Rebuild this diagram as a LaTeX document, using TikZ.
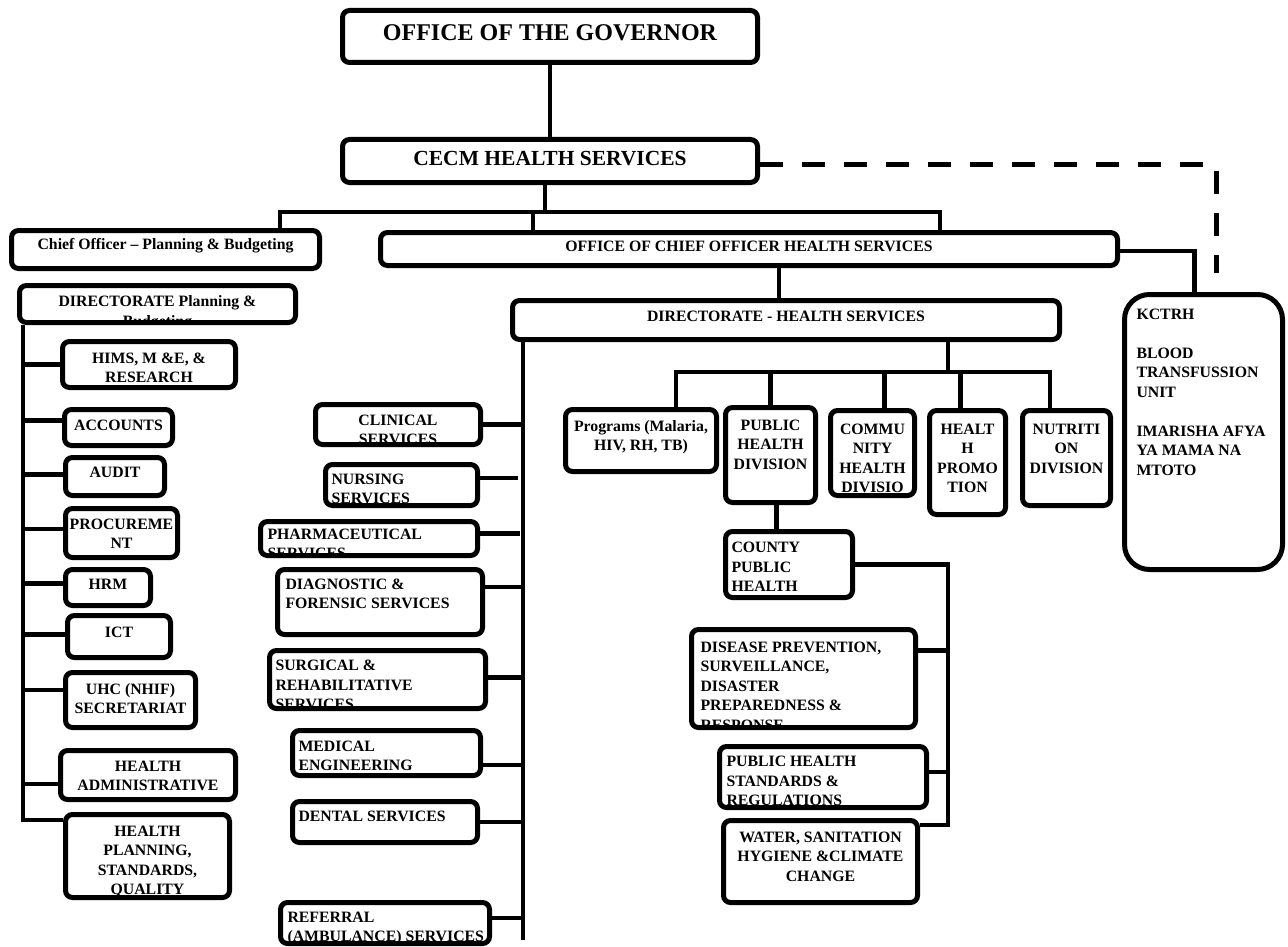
\documentclass[tikz,border=0pt]{standalone}
\usepackage{fontspec}
\setmainfont{Liberation Serif}
\tikzset{
  unit/.style 2 args={draw, line width=5pt, rounded corners=7pt, fill=white,
    anchor=north west, inner sep=0pt, minimum width=#1, minimum height=#2},
  lbl/.style={font=\fontsize{15.8}{19.5}\selectfont\bfseries, inner sep=0pt,
    draw=none, fill=none, minimum width=0pt, minimum height=0pt, align=center},
  mid/.style 2 args={path picture={\node[lbl, anchor=north]
    at ([yshift=-#1pt]path picture bounding box.north) {#2};}},
  lft/.style n args={3}{path picture={\node[lbl, anchor=north west, align=left]
    at ([xshift=#1pt, yshift=-#2pt]path picture bounding box.north west) {#3};}},
  link/.style={line width=4.5pt},
  dashlink/.style={line width=5pt, dash pattern=on 23pt off 19pt},
}

\begin{document}
\begin{tikzpicture}[x=1pt, y=-1pt]
  \useasboundingbox (0,0) rectangle (1288,947);

  \node[unit={415pt}{52pt}, mid={11.2}{\fontsize{24}{28}\selectfont OFFICE OF THE GOVERNOR}] (gov) at (340,8) {};
  \node[unit={415pt}{43pt}, mid={8.8}{\fontsize{21.5}{26}\selectfont CECM HEALTH SERVICES}] (cecm) at (340,137) {};
  \node[unit={308pt}{38pt}, mid={5.5}{Chief Officer -- Planning \& Budgeting}] (chief) at (9,228) {};
  \node[unit={737pt}{33pt}, mid={6}{OFFICE OF CHIEF OFFICER HEALTH SERVICES}] (office) at (378,230) {};
  \node[unit={547pt}{39pt}, mid={8}{DIRECTORATE - HEALTH SERVICES}] (dirhs) at (510,298) {};
  \node[unit={158pt}{275pt}, rounded corners=25pt, lft={9.5}{12}{KCTRH\\[19.5pt]BLOOD\\TRANSFUSSION\\UNIT\\[19.5pt]IMARISHA AFYA\\YA MAMA NA\\MTOTO}] (kctrh) at (1122,292) {};

  \node[unit={276pt}{37pt}, mid={8}{DIRECTORATE Planning \&\\Budgeting}] (dirplan) at (17,283) {};
  \node[unit={173pt}{46pt}, mid={8.5}{HIMS, M \&E, \&\\RESEARCH}] (hims) at (60,339) {};
  \node[unit={108pt}{36pt}, mid={8}{ACCOUNTS}] (acc) at (62,407) {};
  \node[unit={99pt}{38pt}, mid={7.5}{AUDIT}] (audit) at (63,455) {};
  \node[unit={112pt}{49pt}, mid={8}{PROCUREME\\NT}] (proc) at (63,506) {};
  \node[unit={85pt}{36pt}, mid={7}{HRM}] (hrm) at (63,567) {};
  \node[unit={103pt}{42pt}, mid={9.5}{ICT}] (ict) at (65,613) {};
  \node[unit={130pt}{55pt}, mid={8.5}{UHC (NHIF)\\SECRETARIAT}] (uhc) at (63,670) {};
  \node[unit={175pt}{49pt}, mid={8}{HEALTH\\ADMINISTRATIVE}] (hadm) at (58,748) {};
  \node[unit={164pt}{83pt}, mid={9}{HEALTH\\PLANNING,\\STANDARDS,\\QUALITY}] (hplan) at (63,812) {};

  \node[unit={165pt}{40pt}, mid={8}{CLINICAL\\SERVICES}] (clin) at (313,402) {};
  \node[unit={152pt}{41pt}, lft={3.5}{7}{NURSING\\SERVICES}] (nurs) at (323,462) {};
  \node[unit={217pt}{34pt}, lft={4.5}{5}{PHARMACEUTICAL\\SERVICES}] (pharm) at (258,519) {};
  \node[unit={205pt}{65pt}, lft={5.5}{6.5}{DIAGNOSTIC \&\\FORENSIC SERVICES}] (diag) at (275,567) {};
  \node[unit={216pt}{58pt}, lft={3.5}{7}{SURGICAL \&\\REHABILITATIVE\\SERVICES}] (surg) at (267,648) {};
  \node[unit={188pt}{45pt}, lft={3.5}{8}{MEDICAL\\ENGINEERING}] (med) at (290,728) {};
  \node[unit={185pt}{41pt}, lft={3.5}{7}{DENTAL SERVICES}] (dent) at (290,799) {};
  \node[unit={209pt}{41pt}, lft={4.5}{7}{REFERRAL\\(AMBULANCE) SERVICES}] (ref) at (278,900) {};

  \node[unit={151pt}{62pt}, mid={8.5}{Programs (Malaria,\\HIV, RH, TB)}] (prog) at (563,407) {};
  \node[unit={90pt}{95pt}, mid={10}{PUBLIC\\HEALTH\\DIVISION}] (phd) at (723,405) {};
  \node[unit={84pt}{85pt}, mid={11}{COMMU\\NITY\\HEALTH\\DIVISIO}] (comm) at (828,408) {};
  \node[unit={76pt}{104pt}, mid={11}{HEALT\\H\\PROMO\\TION}] (hpro) at (927,408) {};
  \node[unit={88pt}{95pt}, mid={11}{NUTRITI\\ON\\DIVISION}] (nutr) at (1020,408) {};
  \node[unit={127pt}{66pt}, lft={3.5}{8.5}{COUNTY\\PUBLIC\\HEALTH}] (cph) at (723,529) {};
  \node[unit={224pt}{98pt}, lft={6.5}{10}{DISEASE PREVENTION,\\SURVEILLANCE,\\DISASTER\\PREPAREDNESS \&\\RESPONSE}] (dis) at (689,627) {};
  \node[unit={207pt}{61pt}, lft={4.5}{7.5}{PUBLIC HEALTH\\STANDARDS \&\\REGULATIONS}] (phs) at (717,744) {};
  \node[unit={194pt}{82pt}, mid={9}{WATER, SANITATION\\HYGIENE \&CLIMATE\\CHANGE}] (wat) at (721,818) {};

  \draw[link] (gov) -- (cecm);
  \coordinate (bl) at (280,212);
  \coordinate (bm) at (545,212);
  \coordinate (bo) at (533,212);
  \coordinate (br) at (940,212);
  \draw[link] (bm |- cecm.south) -- (bm);
  \draw[link] (bl |- chief.north) -- (bl) -- (br) -- (br |- office.north);
  \draw[link] (bo) -- (bo |- office.north);
  \coordinate (dend) at (1216,273);
  \draw[dashlink] ([yshift=-4pt]cecm.east) -| (dend);
  \draw[link] ([yshift=-2pt]office.east) -| ([xshift=-9pt]kctrh.north);
  \draw[link] ([xshift=-7pt]dirhs.north) -- ([xshift=-7pt]dirhs.north |- office.south);

  \coordinate (lb) at (23,820);
  \draw[link] (lb |- dirplan.south) -- (lb) -- (lb -| hplan.west);
  \draw[link] (hims.west) -- (hims.west -| lb);
  \draw[link] ([yshift=7pt]acc.west) -- ([yshift=7pt]acc.west -| lb);
  \draw[link] ([yshift=2pt]audit.west) -- ([yshift=2pt]audit.west -| lb);
  \draw[link] ([yshift=4pt]proc.west) -- ([yshift=4pt]proc.west -| lb);
  \draw[link] ([yshift=4pt]hrm.west) -- ([yshift=4pt]hrm.west -| lb);
  \draw[link] ([yshift=2pt]ict.west) -- ([yshift=2pt]ict.west -| lb);
  \draw[link] ([yshift=10pt]uhc.west) -- ([yshift=10pt]uhc.west -| lb);
  \draw[link] ([yshift=-9pt]hadm.west) -- ([yshift=-9pt]hadm.west -| lb);

  \coordinate (mb) at (523,940);
  \draw[link] (mb |- dirhs.south) -- (mb);
  \draw[link] (clin.east) -- (clin.east -| mb);
  \draw[link] ([yshift=7pt]nurs.east) -- ([yshift=7pt, xshift=-5pt]nurs.east -| mb);
  \draw[link] ([yshift=5pt]pharm.east) -- ([yshift=5pt, xshift=-3pt]pharm.east -| mb);
  \draw[link] ([yshift=15pt]diag.east) -- ([yshift=15pt]diag.east -| mb);
  \draw[link] ([yshift=2pt]surg.east) -- ([yshift=2pt]surg.east -| mb);
  \draw[link] ([yshift=-12pt]med.east) -- ([yshift=-12pt]med.east -| mb);
  \draw[link] (dent.east) -- (dent.east -| mb);
  \draw[link] ([yshift=5pt]ref.east) -- ([yshift=5pt]ref.east -| mb);

  \coordinate (rm) at (948,372);
  \coordinate (ra) at (676,372);
  \coordinate (rz) at (1050,372);
  \draw[link] (rm |- dirhs.south) -- (rm);
  \draw[link] (ra |- prog.north) -- (ra) -- (rz) -- (rz |- nutr.north);
  \draw[link] (phd.north) -- (phd.north |- ra);
  \draw[link] ([xshift=12pt]comm.north) -- ([xshift=12pt]comm.north |- ra);
  \draw[link] ([xshift=-7pt]hpro.north) -- ([xshift=-7pt]hpro.north |- ra);
  \draw[link] ([xshift=6pt]phd.south) -- ([xshift=6pt]phd.south |- cph.north);
  \coordinate (rc) at (948,825);
  \draw[link] (cph.east) -| (rc) -- (rc -| wat.east);
  \draw[link] ([yshift=28pt]dis.east) -- ([yshift=28pt]dis.east -| rc);
  \draw[link] ([yshift=5pt]phs.east) -- ([yshift=5pt]phs.east -| rc);
\end{tikzpicture}
\end{document}
